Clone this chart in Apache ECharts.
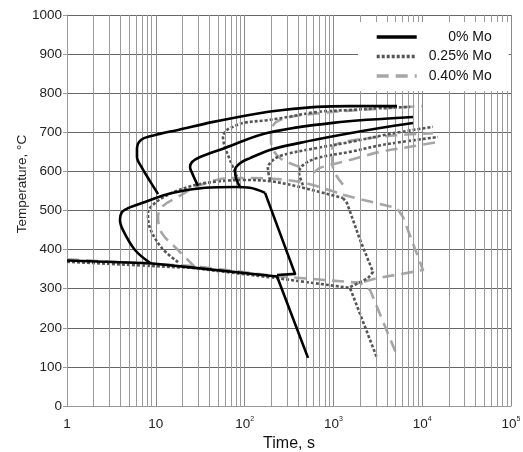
<!DOCTYPE html>
<html>
<head>
<meta charset="utf-8">
<script src="https://cdn.jsdelivr.net/npm/echarts@6/dist/echarts.min.js"></script>
<style>html,body{margin:0;padding:0;background:#fff}#c{width:523px;height:452px}</style>
</head>
<body>
<div id="c"></div>
<script>
// ---- data: [time (s), temperature (°C)] ----
var names = ['0% Mo', '0.25% Mo', '0.40% Mo'];
var xTicks = [1, 10, 100, 1000, 10000, 100000];
var yTicks = [0, 100, 200, 300, 400, 500, 600, 700, 800, 900, 1000];

// 0% Mo (black, solid)
var mo0_c1 = [[10.6,542],[8.6,575],[7.0,609],[6.14,637],[6.14,660],[6.47,675],[7.37,685],[11.1,696],[17.8,706],[43,726],[131,747],[271,757],[653,765],[1538,767],[5200,767]];
var mo0_c2 = [[29.9,563],[26.2,591],[24.3,611],[25.6,624],[31.5,637],[60.1,660],[179,698],[989,724],[7870,739]];
var mo0_c3 = [[88.8,560],[80,583],[78,604],[88.8,621],[115,634],[193,655],[421,673],[1186,693],[3350,711],[7870,724]];
var mo0_bain = [[8.6,366],[5.83,399],[4.27,450],[3.95,476],[4.16,496],[4.86,506],[7.56,522],[15.2,545],[35.8,558],[78,560],[115,558],[170,545]];
var mo0_bainEnd = [[170,545],[370,338],[232,335]];
var mo0_ms = [[1,372],[8.6,365],[26.2,354],[232,331],[518,123]];

// 0.25% Mo (dark grey, dotted)
var mo25_c1 = [[82,586],[68.5,629],[60.1,662],[57.1,688],[63.4,706],[74,714],[96,724],[179,731],[271,737],[653,752],[1538,757],[3622,762],[7295,765]];
var mo25_c2 = [[193,578],[183,609],[209,629],[271,642],[653,660],[1538,675],[4340,696],[13240,714]];
var mo25_c3 = [[455,565],[410,598],[455,616],[653,634],[1538,650],[3622,668],[15070,688]];
var mo25_bain = [[17.8,368],[11.7,404],[8.6,455],[8.17,494],[9.8,519],[15.2,545],[27.6,565],[52.8,575],[101,578],[193,575],[421,560],[1282,532]];
var mo25_bainEnd = [[1282,532],[1423,519],[1995,425],[2793,343],[2455,327],[1538,304]];
var mo25_ms = [[1,369],[26.2,353],[232,327],[1538,302],[3097,123]];

// 0.40% Mo (light grey, dashed)
var mo40_c1 = [[421,611],[300,624],[251,634],[209,655],[198,680],[204,711],[226,726],[324,739],[707,749],[1995,757],[9950,767]];
var mo40_c2 = [[1282,566],[989,609],[965,655],[1042,668],[1538,678],[4340,691],[13240,698]];
var mo40_c3 = [[600,596],[707,609],[1538,629],[3350,650],[7295,663],[15070,675]];
var mo40_bain = [[27.6,355],[17.8,399],[11.7,442],[10.6,483],[11.7,509],[17.8,535],[31.5,565],[68.5,583],[115,583],[421,573],[1282,540]];
var mo40_bainEnd = [[1282,540],[5200,506],[6081,483],[10200,348],[7870,343],[3097,327],[1995,315]];
var mo40_ms = [[1,375],[26.2,358],[232,332],[1995,315],[2583,297],[5335,123]];

// minor (2..9) vertical grid positions of the log axis
var minorX = [];
for (var d = 0; d < 5; d++) for (var k = 2; k <= 9; k++) minorX.push(k * Math.pow(10, d));

var styles = {
  '0% Mo':    {color: '#000000', width: 2.6, type: 'solid'},
  '0.25% Mo': {color: '#555555', width: 2.6, type: [3, 2]},
  '0.40% Mo': {color: '#a6a6a6', width: 2.6, type: [12, 7]}
};
function line(name, data, smooth, z) {
  var s = styles[name];
  return {
    name: name, type: 'line', data: data, smooth: smooth ? 0.35 : false,
    showSymbol: false, symbol: 'none', z: z, animation: false,
    lineStyle: {color: s.color, width: s.width, type: s.type, cap: 'butt', join: 'round'},
    itemStyle: {color: s.color}
  };
}

var series = [{
  type: 'line', data: [], z: 1, silent: true, animation: false,
  markLine: {
    silent: true, symbol: ['none', 'none'], label: {show: false}, animation: false,
    lineStyle: {type: 'solid', color: '#9a9a9a', width: 1},
    data: minorX.map(function (v) { return {xAxis: v}; })
  }
}];
[
  ['0.40% Mo', [mo40_c1, mo40_c2, mo40_c3, mo40_bain], [mo40_bainEnd, mo40_ms], 3],
  ['0.25% Mo', [mo25_c1, mo25_c2, mo25_c3, mo25_bain], [mo25_bainEnd, mo25_ms], 4],
  ['0% Mo', [mo0_c1, mo0_c2, mo0_c3, mo0_bain], [mo0_bainEnd, mo0_ms], 5]
].forEach(function (g) {
  g[1].forEach(function (d) { series.push(line(g[0], d, true, g[3])); });
  g[2].forEach(function (d) { series.push(line(g[0], d, false, g[3])); });
});

var chart = echarts.init(document.getElementById('c'), null, {renderer: 'canvas'});
chart.setOption({
  backgroundColor: '#fff',
  animation: false,
  textStyle: {fontFamily: 'Liberation Sans, Arial, sans-serif'},
  grid: {left: 67, right: 12, top: 15, bottom: 46, containLabel: false, outerBoundsMode: 'none'},
  legend: {
    data: names, orient: 'vertical', left: 358, top: 22,
    padding: [8, 17, 8, 17], backgroundColor: '#ffffff',
    itemWidth: 40, itemHeight: 14, itemGap: 5.5, z: 10,
    itemStyle: {opacity: 0},
    lineStyle: {width: 3.4},
    formatter: function (n) { return '{a|' + n + '}'; },
    textStyle: {color: '#111', fontSize: 14, rich: {a: {width: 70, align: 'right', fontSize: 14, color: '#111'}}}
  },
  xAxis: {
    type: 'log', logBase: 10, min: xTicks[0], max: xTicks[xTicks.length - 1], splitNumber: 5,
    name: 'Time, s', nameLocation: 'middle', nameGap: 29,
    nameTextStyle: {fontSize: 16, color: '#111'},
    axisLine: {show: true, lineStyle: {color: '#999', width: 1}},
    axisTick: {show: false},
    splitLine: {show: true, lineStyle: {color: '#8a8a8a', width: 1}},
    axisLabel: {
      margin: 10, color: '#222',
      formatter: function (v) {
        var e = Math.round(Math.log(v) / Math.LN10);
        if (e === 0) return '{b|1}';
        if (e === 1) return '{b|10}';
        return '{b|10}{s|' + e + '}';
      },
      rich: {b: {fontSize: 13.5, lineHeight: 16, color: '#222'}, s: {fontSize: 7, verticalAlign: 'top', color: '#222'}}
    }
  },
  yAxis: {
    type: 'value', min: yTicks[0], max: yTicks[yTicks.length - 1], interval: 100,
    axisLine: {show: true, lineStyle: {color: '#999', width: 1}},
    axisTick: {show: true, length: 4, lineStyle: {color: '#999'}},
    splitLine: {show: true, lineStyle: {color: '#666', width: 1}},
    axisLabel: {fontSize: 13.5, color: '#222', margin: 5, formatter: function (v) { return String(v); }}
  },
  graphic: [{
    type: 'text', x: 22, y: 184, rotation: Math.PI / 2,
    style: {text: 'Temperature, °C', fill: '#222', font: '13.5px "Liberation Sans", Arial, sans-serif', textAlign: 'center', textVerticalAlign: 'middle'}
  }],
  series: series
});
</script>
</body>
</html>
